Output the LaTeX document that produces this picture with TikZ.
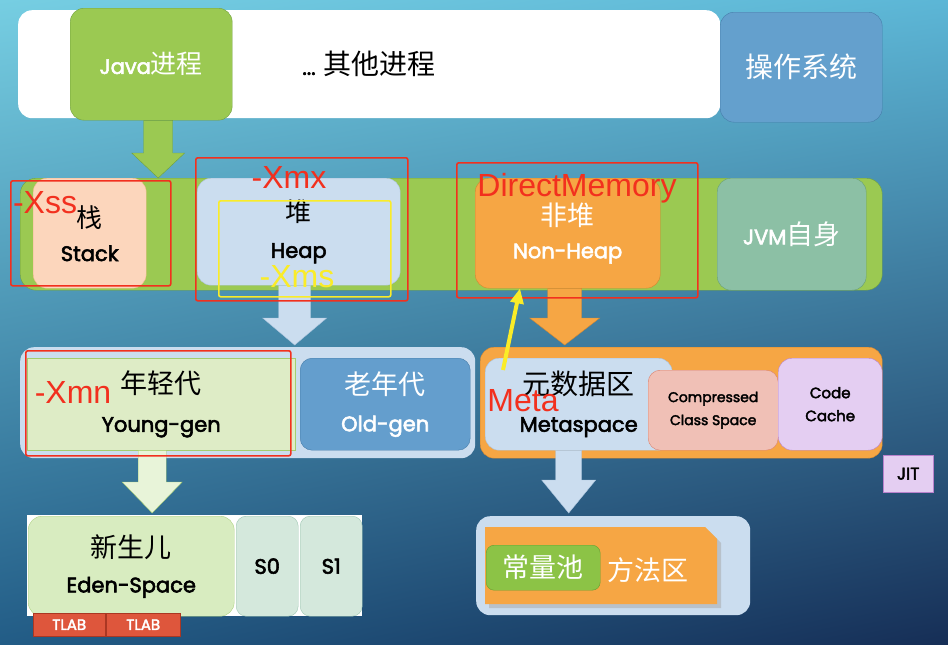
\documentclass[tikz,border=0pt]{standalone}
\usepackage{fontspec}
\setmainfont{Noto Sans CJK SC}
\newfontfamily\latinfont{Poppins}[FakeBold=2.6]
\newfontfamily\tagfont{Liberation Sans}
\newcommand{\lat}[1]{{\latinfont\fontsize{21}{21}\selectfont #1}}
\usetikzlibrary{
  arrows.meta,
  calc,
  shadings
}
\definecolor{bgtopleft}{RGB}{118, 206, 226}
\definecolor{bgtopright}{RGB}{92, 182, 214}
\definecolor{bgbottomleft}{RGB}{34, 92, 134}
\definecolor{bgbottomright}{RGB}{22, 46, 86}
\definecolor{javagreen}{RGB}{155, 201, 82}
\definecolor{javaborder}{RGB}{112, 160, 62}
\definecolor{osblue}{RGB}{100, 160, 205}
\definecolor{osborder}{RGB}{70, 125, 170}
\definecolor{stackpeach}{RGB}{252, 214, 188}
\definecolor{stackborder}{RGB}{245, 185, 140}
\definecolor{heapblue}{RGB}{203, 221, 239}
\definecolor{heapborder}{RGB}{170, 195, 220}
\definecolor{nonheaporange}{RGB}{246, 166, 68}
\definecolor{nonheapborder}{RGB}{210, 135, 50}
\definecolor{jvmgreen}{RGB}{140, 192, 165}
\definecolor{jvmborder}{RGB}{105, 160, 115}
\definecolor{younggreen}{RGB}{222, 236, 198}
\definecolor{youngborder}{RGB}{165, 205, 110}
\definecolor{oldblue}{RGB}{100, 158, 205}
\definecolor{ccsred}{RGB}{240, 192, 182}
\definecolor{ccsborder}{RGB}{220, 130, 110}
\definecolor{cachepurple}{RGB}{228, 206, 242}
\definecolor{cacheborder}{RGB}{185, 130, 205}
\definecolor{edengreen}{RGB}{216, 236, 192}
\definecolor{edenborder}{RGB}{175, 210, 130}
\definecolor{survivorgreen}{RGB}{212, 232, 220}
\definecolor{survivorborder}{RGB}{160, 200, 180}
\definecolor{tlabred}{RGB}{222, 86, 60}
\definecolor{tlabborder}{RGB}{170, 55, 35}
\definecolor{poolgreen}{RGB}{140, 195, 70}
\definecolor{poolborder}{RGB}{100, 160, 50}
\definecolor{tagred}{RGB}{242, 48, 30}
\definecolor{tagyellow}{RGB}{250, 236, 40}
\tikzset{
blocktext/.style={
  align=center,
  font=\fontsize{27}{37}\selectfont,
  text=black
},
wh/.style 2 args={
  minimum width=#1pt,
  minimum height=#2pt
},
box/.style={
  anchor=north west,
  inner sep=0pt,
  rounded corners=14pt,
  blocktext
},
limitframe/.style={
  draw=tagred,
  line width=1.6pt,
  rounded corners=2pt,
  anchor=north west,
  inner sep=0pt
},
sizetag/.style={
  text=tagred,
  font=\tagfont\fontsize{32}{32}\selectfont,
  inner sep=0pt
},
fatarrow/.style n args={3}{
  to path={
    let \p1=(\tikztostart), \p2=(\tikztotarget) in
    (\x1-#1,\y1) -- (\x1-#1,\y2+#3) -- (\x1-#2,\y2+#3) -- (\x1,\y2)
    -- (\x1+#2,\y2+#3) -- (\x1+#1,\y2+#3) -- (\x1+#1,\y1) -- cycle
  }
},
pointer/.style={
  -{Triangle[length=15pt,width=13pt]},
  line width=4pt,
  draw=tagyellow
}
}
\begin{document}
\begin{tikzpicture}[x=1pt,y=-1pt]
  \useasboundingbox (0,0) rectangle (948,645);
  \shade[upper left=bgtopleft, upper right=bgtopright,
    lower left=bgbottomleft, lower right=bgbottomright] (0,0) rectangle (948,645);

  % process row
  \node[box, wh={702}{108}, fill=white, font=\fontsize{28}{30}\selectfont] (osbar) at (18,10)
    {\lat{...} 其他进程};
  \node[box, wh={162}{112}, fill=javagreen, draw=javaborder, text=white,
    font=\fontsize{26}{30}\selectfont] (javabox) at (70,8)
    {\lat{Java}进程};
  \node[box, wh={162}{110}, fill=osblue, draw=osborder, text=white,
    font=\fontsize{28}{30}\selectfont] (osbox) at (720,12) {操作系统};

  % jvm memory row
  \node[box, wh={862}{112}, fill=javagreen, draw=javaborder, rounded corners=16pt] (band) at (20,178) {};
  \draw[fill=javagreen, draw=javaborder, fatarrow={14.5pt}{26.5pt}{25pt}]
    ([xshift=7pt]javabox.south) to ([xshift=7pt]javabox.south |- band.north);
  \node[box, wh={113}{110}, fill=stackpeach, draw=stackborder, font=\fontsize{26}{34}\selectfont] (stackbox) at (33,178)
    {栈\\\lat{Stack}};
  \node[box, wh={203}{107}, fill=heapblue, draw=heapborder, font=\fontsize{26}{36}\selectfont] (heapbox) at (197,178)
    {堆\\\lat{Heap}};
  \node[box, wh={185}{110}, fill=nonheaporange, draw=nonheapborder, text=white,
    font=\fontsize{27}{33}\selectfont] (nonheap) at (475,178)
    {非堆\\\lat{Non-Heap}};
  \node[box, wh={149}{112}, fill=jvmgreen, draw=jvmborder, text=white] (jvmself) at (717,178)
    {\lat{JVM}自身};

  % down to generations
  \draw[fill=heapblue, draw=heapborder, fatarrow={16pt}{32pt}{27pt}]
    ([xshift=-4pt]heapbox.south) to ([xshift=-4pt]heapbox.south |- 0,345);
  \draw[fill=nonheaporange, draw=nonheapborder, fatarrow={17pt}{35pt}{27pt}]
    ([xshift=-3pt]nonheap.south) to ([xshift=-3pt]nonheap.south |- 0,345);

  \node[box, wh={455}{111}, fill=heapblue] (genpanel) at (20,347) {};
  \node[box, wh={268}{92}, fill=younggreen, draw=youngborder, rounded corners=0pt,
    font=\fontsize{27}{38}\selectfont] (younggen) at (27,358)
    {年轻代\\\lat{Young-gen}};
  \node[box, wh={170}{92}, fill=oldblue, draw=osborder, rounded corners=12pt, text=white,
    font=\fontsize{27}{37}\selectfont] (oldgen) at (300,358)
    {老年代\\\lat{Old-gen}};

  \node[box, wh={402}{111}, fill=nonheaporange, draw=nonheapborder] (metapanel) at (480,347) {};
  \node[box, wh={187}{92}, fill=heapblue, draw=heapborder, font=\fontsize{28}{37}\selectfont] (metabox) at (485,358)
    {元数据区\\\lat{Metaspace}};
  \node[box, wh={130}{80}, fill=ccsred, draw=ccsborder, rounded corners=12pt,
    font=\latinfont\fontsize{14}{23}\selectfont] (ccsbox) at (648,370)
    {Compressed\\Class Space};
  \node[box, wh={104}{92}, fill=cachepurple, draw=cacheborder,
    font=\latinfont\fontsize{15}{23}\selectfont] (codecache) at (778,358)
    {Code\\Cache};
  \node[box, wh={50}{37}, fill=cachepurple, draw=cacheborder, rounded corners=0pt,
    font=\latinfont\fontsize{17}{18}\selectfont] (jitbox) at (883,455) {JIT};

  % eden and method area
  \draw[fill=edengreen!60!white, draw=youngborder, fatarrow={14pt}{30pt}{31pt}]
    ([xshift=-9pt]younggen.south) to ([xshift=-9pt]younggen.south |- 0,513);
  \draw[fill=heapblue, draw=heapborder, fatarrow={13pt}{27pt}{33pt}]
    ([xshift=-10pt]metabox.south) to ([xshift=-10pt]metabox.south |- 0,513);

  \node[box, wh={335}{101}, fill=white, rounded corners=0pt] (edenback) at (27,515) {};
  \node[box, wh={206}{100}, fill=edengreen, draw=edenborder, font=\fontsize{27}{35}\selectfont] (edenbox) at (28,516)
    {新生儿\\\lat{Eden-Space}};
  \node[box, wh={62}{100}, fill=survivorgreen, draw=survivorborder, rounded corners=10pt] (szero) at (236,516) {\lat{S0}};
  \node[box, wh={62}{100}, fill=survivorgreen, draw=survivorborder, rounded corners=10pt] (sone) at (300,516) {\lat{S1}};
  \node[box, wh={72}{23}, fill=tlabred, draw=tlabborder, rounded corners=0pt, text=white,
    font=\latinfont\fontsize{15}{15}\selectfont] (tlabone) at (33,613) {TLAB};
  \node[box, wh={74}{23}, fill=tlabred, draw=tlabborder, rounded corners=0pt, text=white,
    font=\latinfont\fontsize{15}{15}\selectfont] (tlabtwo) at (106,613) {TLAB};

  \node[box, wh={274}{99}, fill=heapblue] (methodpanel) at (476,516) {};
  \fill[black!35, opacity=0.5] (489,531) -- (709,531) -- (721,543) -- (721,608) -- (489,608) -- cycle;
  \fill[nonheaporange] (485,527) -- (705,527) -- (717,539) -- (717,604) -- (485,604) -- cycle;
  \node[box, wh={114}{45}, fill=poolgreen, draw=poolborder, rounded corners=8pt, text=white] (constpool) at (486,545) {常量池};
  \node[blocktext, text=white] (methodlabel) at (648,570) {方法区};

  % size options
  \node[limitframe, wh={160}{105}] (xssframe) at (10,180) {};
  \node[limitframe, wh={212}{143}] (xmxframe) at (195,157) {};
  \node[limitframe, wh={172}{96}, draw=tagyellow] (xmsframe) at (218,200) {};
  \node[limitframe, wh={241}{135}] (dmframe) at (456,162) {};
  \node[limitframe, wh={265}{105}] (xmnframe) at (25,350) {};
  \node[sizetag] (xsstag) at (45,203) {-Xss};
  \node[sizetag] (xmxtag) at (289,177) {-Xmx};
  \node[sizetag, text=tagyellow] (xmstag) at (297,277) {-Xms};
  \node[sizetag] (dmtag) at (577,188) {DirectMemory};
  \node[sizetag] (xmntag) at (73,392) {-Xmn};
  \node[sizetag] (metatag) at (523,401) {Meta};
  \coordinate (metapoint) at (503,370);
  \draw[pointer] (metapoint) -- ([xshift=45pt]nonheap.south west);
\end{tikzpicture}
\end{document}
